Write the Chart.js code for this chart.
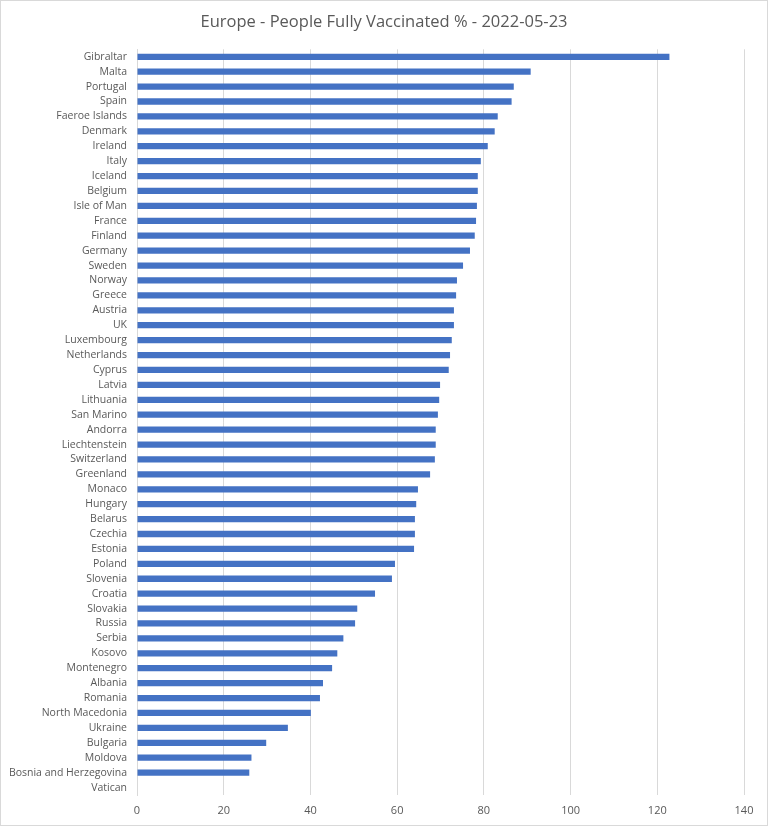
<!DOCTYPE html>
<html>
<head>
<meta charset="utf-8">
<script src="https://cdn.jsdelivr.net/npm/chart.js@4"></script>
<style>
  body { margin: 0; background: #fff; }
  #wrap { width: 768px; height: 826px; position: relative; }
</style>
</head>
<body>
<div id="wrap"><canvas id="myChart"></canvas></div>
<script>
var countries = ["Gibraltar","Malta","Portugal","Spain","Faeroe Islands","Denmark","Ireland","Italy","Iceland","Belgium",
  "Isle of Man","France","Finland","Germany","Sweden","Norway","Greece","Austria","UK","Luxembourg",
  "Netherlands","Cyprus","Latvia","Lithuania","San Marino","Andorra","Liechtenstein","Switzerland","Greenland","Monaco",
  "Hungary","Belarus","Czechia","Estonia","Poland","Slovenia","Croatia","Slovakia","Russia","Serbia",
  "Kosovo","Montenegro","Albania","Romania","North Macedonia","Ukraine","Bulgaria","Moldova","Bosnia and Herzegovina","Vatican"];
var vaccinated = [122.8, 90.8, 86.9, 86.4, 83.2, 82.5, 80.9, 79.3, 78.6, 78.6,
  78.4, 78.2, 77.9, 76.8, 75.2, 73.8, 73.6, 73.1, 73.1, 72.6,
  72.2, 71.9, 69.9, 69.7, 69.4, 68.9, 68.9, 68.7, 67.6, 64.8,
  64.4, 64.1, 64.1, 63.9, 59.5, 58.8, 54.9, 50.8, 50.3, 47.6,
  46.2, 45.0, 42.9, 42.2, 40.1, 34.8, 29.8, 26.4, 25.9, 0];
var xTicks = [0, 20, 40, 60, 80, 100, 120, 140];

var frame = {
  id: "frame",
  afterDraw: function(c) {
    var ctx = c.ctx;
    ctx.save();
    ctx.strokeStyle = "#d9d9d9";
    ctx.lineWidth = 1;
    ctx.strokeRect(0.5, 0.5, c.width - 1, c.height - 1);
    ctx.restore();
  }
};

new Chart("myChart", {
  type: "bar",
  data: {
    labels: countries,
    datasets: [{
      label: "People Fully Vaccinated %",
      data: vaccinated,
      backgroundColor: "#4472C4",
      borderWidth: 0,
      categoryPercentage: 1,
      barPercentage: 0.42
    }]
  },
  plugins: [frame],
  options: {
    indexAxis: "y",
    responsive: true,
    maintainAspectRatio: false,
    animation: false,
    layout: { padding: 0 },
    plugins: {
      legend: { display: false },
      tooltip: { enabled: false },
      title: {
        display: true,
        text: "Europe - People Fully Vaccinated % - 2022-05-23",
        color: "#595959",
        font: { family: "'Open Sans'", size: 16.5, weight: "normal" },
        padding: { top: 12, bottom: 17.5 }
      }
    },
    scales: {
      x: {
        min: 0,
        max: 140,
        afterBuildTicks: function(s) { s.ticks = xTicks.map(function(v) { return { value: v }; }); },
        afterFit: function(s) { s.height = 31; },
        grid: { color: "#d9d9d9", lineWidth: 1, drawTicks: false },
        border: { display: false },
        ticks: { color: "#595959", padding: 9, font: { family: "'Open Sans'", size: 11 } }
      },
      y: {
        afterFit: function(s) { s.width = 137; },
        grid: { display: false, drawTicks: false },
        border: { display: true, color: "#d9d9d9" },
        ticks: { color: "#595959", padding: 10, autoSkip: false, font: { family: "'Open Sans'", size: 10.5 } }
      },
      yRight: {
        type: "category",
        position: "right",
        afterFit: function(s) { s.width = 24; },
        grid: { display: false, drawTicks: false },
        border: { display: false },
        ticks: { display: false }
      }
    }
  }
});
</script>
</body>
</html>
